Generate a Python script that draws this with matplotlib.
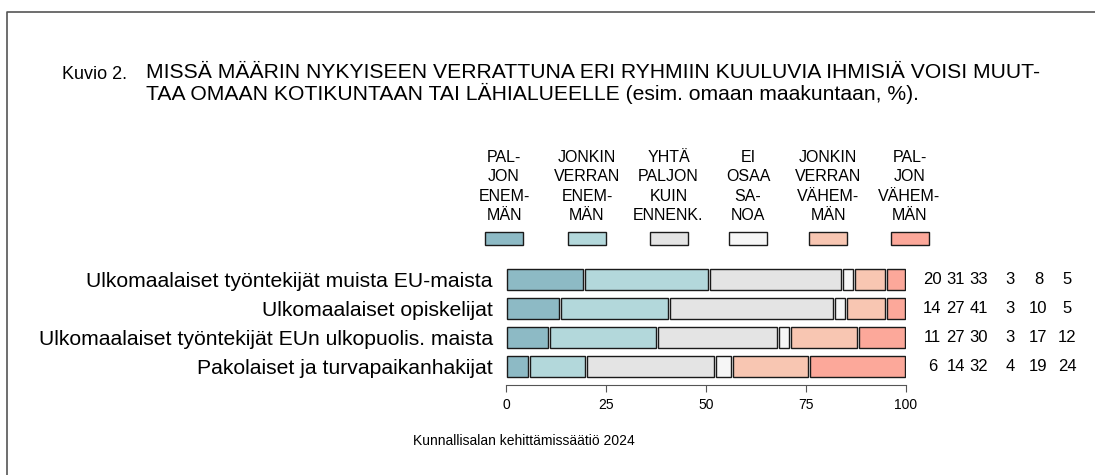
import numpy as np
import matplotlib
matplotlib.use("Agg")
import matplotlib.pyplot as plt
from matplotlib.patches import Rectangle
from matplotlib.lines import Line2D
from matplotlib.transforms import blended_transform_factory

# data
groups = ["Ulkomaalaiset työntekijät muista EU-maista",
          "Ulkomaalaiset opiskelijat",
          "Ulkomaalaiset työntekijät EUn ulkopuolis. maista",
          "Pakolaiset ja turvapaikanhakijat"]
answers = ["PAL-\nJON\nENEM-\nMÄN",
           "JONKIN\nVERRAN\nENEM-\nMÄN",
           "YHTÄ\nPALJON\nKUIN\nENNENK.",
           "EI\nOSAA\nSA-\nNOA",
           "JONKIN\nVERRAN\nVÄHEM-\nMÄN",
           "PAL-\nJON\nVÄHEM-\nMÄN"]
# printed (rounded) percentages
paljon_enemman = [20, 14, 11, 6]
jonkin_enemman = [31, 27, 27, 14]
yhta_paljon = [33, 41, 30, 32]
ei_osaa = [3, 3, 3, 4]
jonkin_vahemman = [8, 10, 17, 19]
paljon_vahemman = [5, 5, 12, 24]
# bar lengths as drawn (unrounded)
bar_paljon_enemman = [19.5, 13.5, 10.8, 5.8]
bar_jonkin_enemman = [31.3, 27.3, 27.0, 14.2]
bar_yhta_paljon = [33.2, 41.2, 30.2, 32.3]
bar_ei_osaa = [3.0, 3.0, 3.0, 4.1]
bar_jonkin_vahemman = [8.0, 10.0, 17.0, 19.4]
bar_paljon_vahemman = [5.0, 5.0, 12.0, 24.2]
xticks = [0, 25, 50, 75, 100]

colors = ["#8dbac5", "#b3d8db", "#e4e4e4", "#f6f6f6", "#f8c6b2", "#fca89a"]

W, H = 1095, 475
fx = lambda px: px / W
fy = lambda py: 1 - py / H

plt.rcParams['font.family'] = ['Liberation Sans', 'DejaVu Sans']

fig = plt.figure(figsize=(W / 100, H / 100), dpi=100)
ax = fig.add_axes([fx(506), fy(381), 400 / W, 116 / H])

bars = [bar_paljon_enemman, bar_jonkin_enemman, bar_yhta_paljon, bar_ei_osaa,
        bar_jonkin_vahemman, bar_paljon_vahemman]
printed = [paljon_enemman, jonkin_enemman, yhta_paljon, ei_osaa,
           jonkin_vahemman, paljon_vahemman]
y = np.arange(len(groups))
left = np.zeros(len(groups))
gap = 0.45
for vals, c in zip(bars, colors):
    vals = np.array(vals, dtype=float)
    ax.barh(y, vals - gap, left=left + gap / 2, height=0.72, color=c,
            edgecolor="#1a1a1a", linewidth=1.0)
    left += vals

ax.set_xlim(0, 100)
ax.set_ylim(3.5, -0.5)
for s in ["top", "right", "left"]:
    ax.spines[s].set_visible(False)
ax.spines["bottom"].set_position(("outward", 3))
ax.spines["bottom"].set_bounds(0, 100)
ax.spines["bottom"].set_color("#555555")
ax.set_xticks(xticks)
ax.set_xticklabels([str(t) for t in xticks])
ax.tick_params(axis="x", length=5, color="#555555", labelsize=10, pad=4)
ax.set_yticks(y)
ax.set_yticklabels(groups)
ax.tick_params(axis="y", length=0, labelsize=15.2, pad=9.5)

# numbers to the right of the bars
col_x = [932.5, 955.5, 979, 1010, 1038.5, 1067]
trans = blended_transform_factory(fig.transFigure, ax.transData)
for vals, cx in zip(printed, col_x):
    for yi, v in zip(y, vals):
        ax.text(fx(cx), yi, str(v), transform=trans, ha="center", va="center",
                fontsize=12, clip_on=False)

# legend
leg_x = [504, 587, 668.5, 748, 828, 909.5]
for lab, c, cx in zip(answers, colors, leg_x):
    fig.text(fx(cx), fy(150), lab, ha="center", va="top", fontsize=11.5,
             linespacing=1.36)
    fig.add_artist(Rectangle((fx(cx - 19), fy(245)), 38 / W, 13 / H,
                             transform=fig.transFigure, facecolor=c,
                             edgecolor="#1a1a1a", linewidth=1.0))

# titles
fig.text(fx(62), fy(79), "Kuvio 2.", fontsize=13, va="baseline")
fig.text(fx(146), fy(78), "MISSÄ MÄÄRIN NYKYISEEN VERRATTUNA ERI RYHMIIN KUULUVIA IHMISIÄ VOISI MUUT-",
         fontsize=15.2, va="baseline")
fig.text(fx(146), fy(100), "TAA OMAAN KOTIKUNTAAN TAI LÄHIALUEELLE (esim. omaan maakuntaan, %).",
         fontsize=15.2, va="baseline")
fig.text(fx(413), fy(445), "Kunnallisalan kehittämissäätiö 2024", fontsize=10, va="baseline")

# frame
fig.add_artist(Line2D([fx(7), fx(7), 1], [0, fy(11.5), fy(11.5)],
                      transform=fig.transFigure, color="#555555", linewidth=1.2))

plt.savefig("out.png", dpi=100)
